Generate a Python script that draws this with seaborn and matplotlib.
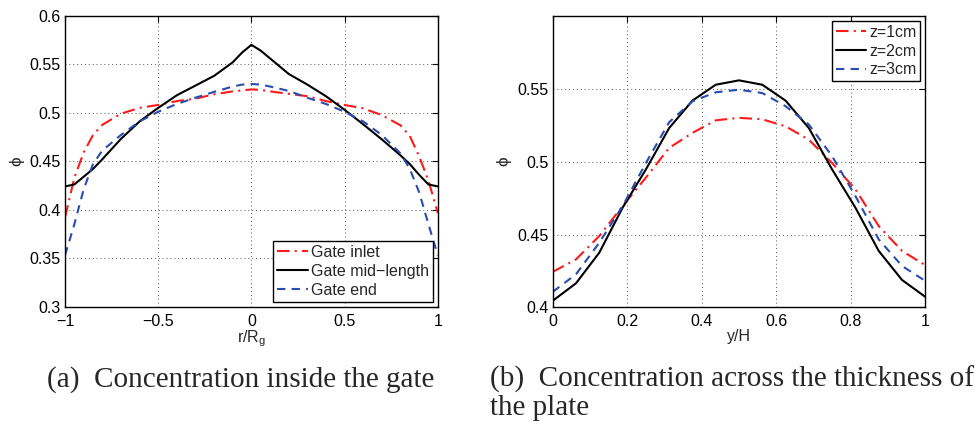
import numpy as np
import pandas as pd
import matplotlib
matplotlib.use("Agg")
import matplotlib.pyplot as plt
from matplotlib.ticker import FuncFormatter
import seaborn as sns

##############################################
### DATA #####################################
##############################################

# (a) radial position inside the gate, r/Rg
r_gate = [-1, -0.95, -0.9, -0.85, -0.8, -0.7, -0.6, -0.5, -0.4, -0.3, -0.2, -0.1, -0.05,
          0, 0.05, 0.1, 0.2, 0.3, 0.4, 0.5, 0.6, 0.7, 0.8, 0.85, 0.9, 0.95, 1]
phi_inlet = [0.392, 0.433, 0.459, 0.477, 0.4875, 0.499, 0.505, 0.508, 0.512, 0.5145, 0.519,
             0.522, 0.523, 0.524, 0.5235, 0.522, 0.5195, 0.517, 0.512, 0.508, 0.5045, 0.4975,
             0.487, 0.476, 0.455, 0.430, 0.3966]
phi_mid = [0.424, 0.426, 0.434, 0.442, 0.452, 0.473, 0.491, 0.505, 0.518, 0.528, 0.538,
           0.552, 0.562, 0.570, 0.564, 0.556, 0.540, 0.529, 0.517, 0.503, 0.488, 0.4725,
           0.456, 0.447, 0.436, 0.426, 0.424]
phi_end = [0.353, 0.385, 0.421, 0.447, 0.461, 0.477, 0.491, 0.501, 0.509, 0.5155, 0.5215,
           0.527, 0.529, 0.5296, 0.529, 0.527, 0.5225, 0.5155, 0.509, 0.501, 0.491, 0.477,
           0.458, 0.442, 0.418, 0.385, 0.353]
labels_gate = ["Gate inlet", "Gate mid\u2212length", "Gate end"]

# (b) position across the plate thickness, y/H
y_plate = [0, 0.0625, 0.125, 0.1875, 0.25, 0.3125, 0.375, 0.4375, 0.5, 0.5625, 0.625,
           0.6875, 0.75, 0.8125, 0.875, 0.9375, 1]
phi_z1 = [0.4244, 0.433, 0.449, 0.4695, 0.489, 0.5094, 0.5197, 0.5283, 0.530, 0.529,
          0.5242, 0.515, 0.499, 0.481, 0.4558, 0.4388, 0.429]
phi_z2 = [0.4046, 0.4166, 0.4376, 0.4684, 0.4946, 0.523, 0.5418, 0.5527, 0.5557, 0.5527,
          0.5418, 0.523, 0.4946, 0.4684, 0.4388, 0.4189, 0.4073]
phi_z3 = [0.4107, 0.4228, 0.4444, 0.4695, 0.499, 0.527, 0.5413, 0.5475, 0.5493, 0.547,
          0.538, 0.5254, 0.5037, 0.4764, 0.4467, 0.4285, 0.4182]
labels_plate = ["z=1cm", "z=2cm", "z=3cm"]

##############################################
### STYLE ####################################
##############################################

sns.set_style("white")
plt.rcParams["font.family"] = ["Liberation Sans", "DejaVu Sans"]
fs = 11.5

colors = ["#ff1a1a", "black", "#2a4cb0"]
styles = [(0, (6, 2.5, 1, 2.5)), "-", (0, (4, 3))]

fig = plt.figure(figsize=(9.75, 4.25), dpi=100)
ax1 = fig.add_axes([0.0667, 0.2784, 0.3823, 0.6846])
ax2 = fig.add_axes([0.5669, 0.2765, 0.3821, 0.6865])


def draw(ax, x, series, labels):
    for vals, lab, c, ls in zip(series, labels, colors, styles):
        d = pd.DataFrame({"x": x, "phi": vals})
        sns.lineplot(data=d, x="x", y="phi", ax=ax, color=c, linestyle=ls,
                     linewidth=1.5, label=lab)


draw(ax1, r_gate, [phi_inlet, phi_mid, phi_end], labels_gate)
draw(ax2, y_plate, [phi_z1, phi_z2, phi_z3], labels_plate)

ax1.set_xlim(-1, 1)
ax1.set_ylim(0.3, 0.6)
ax1.set_xticks([-1, -0.5, 0, 0.5, 1])
ax1.set_yticks([0.3, 0.35, 0.4, 0.45, 0.5, 0.55, 0.6])

ax2.set_xlim(0, 1)
ax2.set_ylim(0.4, 0.6)
ax2.set_xticks([0, 0.2, 0.4, 0.6, 0.8, 1])
ax2.set_yticks([0.4, 0.45, 0.5, 0.55])

fmt = FuncFormatter(lambda v, p: f"{v:g}".replace("-", "\u2212"))

for ax in (ax1, ax2):
    ax.xaxis.set_major_formatter(fmt)
    ax.yaxis.set_major_formatter(fmt)
    ax.tick_params(direction="in", length=4, width=0.8, top=True, right=True,
                   labelsize=fs, pad=3, colors="black")
    ax.tick_params(axis="x", pad=5)
    ax.grid(True, linestyle=(0, (1, 3)), color="#555555", linewidth=0.7)
    for s in ax.spines.values():
        s.set_color("black")
        s.set_linewidth(1.0)
    ax.set_ylabel("\u03d5", fontsize=fs + 1, labelpad=4)

ax1.set_xlabel(r"r/R$_\mathregular{g}$", fontsize=fs, labelpad=0)
ax2.set_xlabel("y/H", fontsize=fs, labelpad=0)

leg_kw = dict(fontsize=fs, frameon=True, fancybox=False, framealpha=1, edgecolor="black",
              handlelength=1.9, handletextpad=0.2, labelspacing=0.25, borderpad=0.25,
              borderaxespad=0.3)
l1 = ax1.legend(loc="lower right", **leg_kw)
l2 = ax2.legend(loc="upper right", **leg_kw)
for l in (l1, l2):
    l.get_frame().set_linewidth(1.0)

# captions
cap = dict(family=["Liberation Serif", "DejaVu Serif"], fontsize=21, va="baseline", ha="left")
fig.text(0.048, 1 - 387 / 425, "(a)  Concentration inside the gate", **cap)
fig.text(0.503, 1 - 387 / 425, "(b)  Concentration across the thickness of", **cap)
fig.text(0.503, 1 - 415 / 425, "the plate", **cap)

fig.savefig("out.png", dpi=100)
